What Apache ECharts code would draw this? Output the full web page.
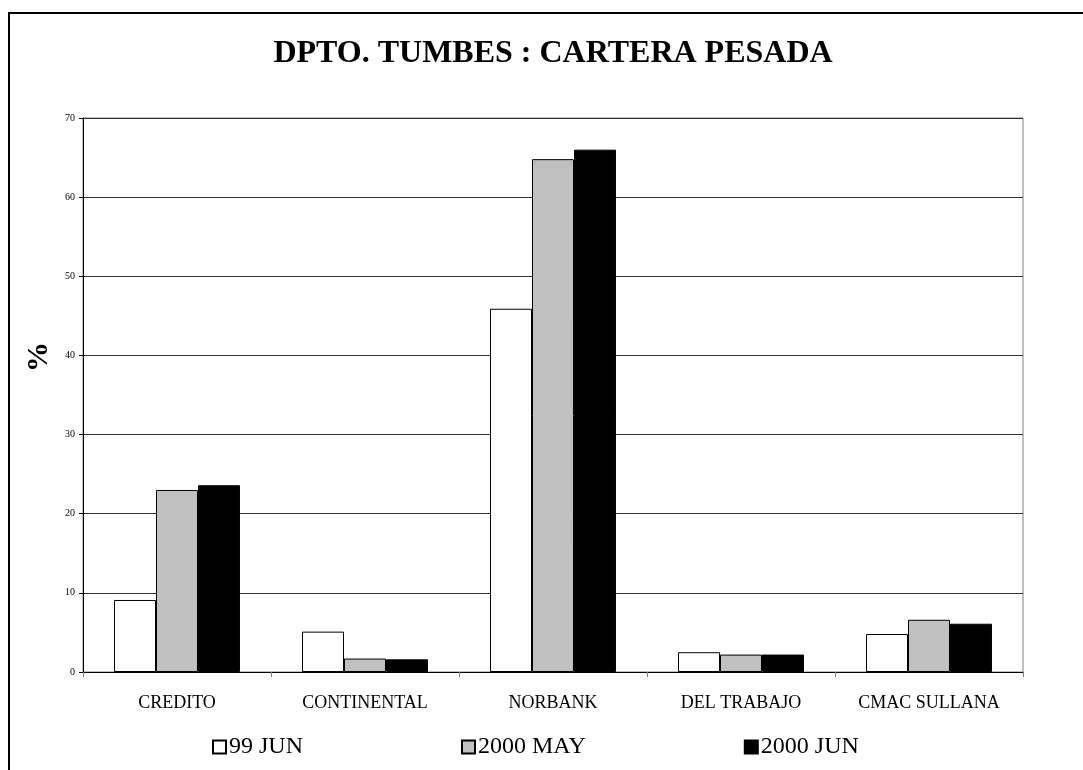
<!DOCTYPE html>
<html>
<head>
<meta charset="utf-8">
<script src="https://cdn.jsdelivr.net/npm/echarts@6/dist/echarts.min.js"></script>
<style>
  html, body { margin: 0; padding: 0; background: #fff; }
  #chart { width: 1083px; height: 770px; }
</style>
</head>
<body>
<div id="chart"></div>
<script>
const categories = ['CREDITO', 'CONTINENTAL', 'NORBANK', 'DEL TRABAJO', 'CMAC SULLANA'];
const seriesNames = ['99 JUN', '2000 MAY', '2000 JUN'];
const jun99 = [9.1, 5.1, 45.9, 2.5, 4.8];
const may2000 = [23.0, 1.7, 64.8, 2.2, 6.6];
const jun2000 = [23.6, 1.6, 66.0, 2.2, 6.1];
const yTicks = [0, 10, 20, 30, 40, 50, 60, 70];

const serif = "'Liberation Serif', 'Times New Roman', serif";
const fills = ['#ffffff', '#c0c0c0', '#000000'];
const values = [jun99, may2000, jun2000];

const chart = echarts.init(document.getElementById('chart'));

const series = seriesNames.map((name, i) => ({
    name: name,
    type: 'bar',
    data: values[i],
    barGap: '0%',
    barCategoryGap: '33%',
    itemStyle: { color: fills[i], borderColor: '#000', borderWidth: 1 },
    emphasis: { disabled: true }
}));

const option = {
    backgroundColor: '#fff',
    animation: false,
    title: {
        text: 'DPTO. TUMBES : CARTERA PESADA',
        left: 553,
        textAlign: 'center',
        top: 38,
        padding: 0,
        textStyle: { fontFamily: serif, fontSize: 32, fontWeight: 'bold', color: '#000' }
    },
    graphic: [{
        type: 'rect',
        shape: { x: 9, y: 13, width: 1200, height: 900 },
        style: { fill: 'none', stroke: '#000', lineWidth: 2 },
        silent: true
    }],
    legend: {
        data: seriesNames,
        icon: 'rect',
        left: 212,
        top: 735,
        padding: 0,
        itemGap: 158,
        itemWidth: 13,
        itemHeight: 13,
        textStyle: { fontFamily: serif, fontSize: 24, color: '#000', padding: [0, 0, 0, -2] }
    },
    grid: {
        left: 83, top: 118, right: 60, bottom: 98,
        show: true, borderColor: '#808080', borderWidth: 1
    },
    xAxis: {
        type: 'category',
        data: categories,
        axisLine: { lineStyle: { color: '#000', width: 1 } },
        axisTick: { show: true, length: 5, lineStyle: { color: '#808080' } },
        axisLabel: { fontFamily: serif, fontSize: 18, color: '#000', margin: 22 }
    },
    yAxis: {
        type: 'value',
        min: yTicks[0],
        max: yTicks[yTicks.length - 1],
        interval: 10,
        name: '%',
        nameLocation: 'middle',
        nameRotate: 90,
        nameGap: 26,
        nameTextStyle: {
            fontFamily: serif, fontSize: 30, fontWeight: 'bold', color: '#000',
            padding: [0, 0, 0, 76]
        },
        axisLine: { show: true, lineStyle: { color: '#000', width: 1 } },
        axisTick: { show: true, length: 4, lineStyle: { color: '#000' } },
        axisLabel: { fontFamily: serif, fontSize: 10, color: '#000', margin: 8 },
        splitLine: { show: true, lineStyle: { color: '#333', width: 1 } }
    },
    series: series
};

chart.setOption(option);
</script>
</body>
</html>
